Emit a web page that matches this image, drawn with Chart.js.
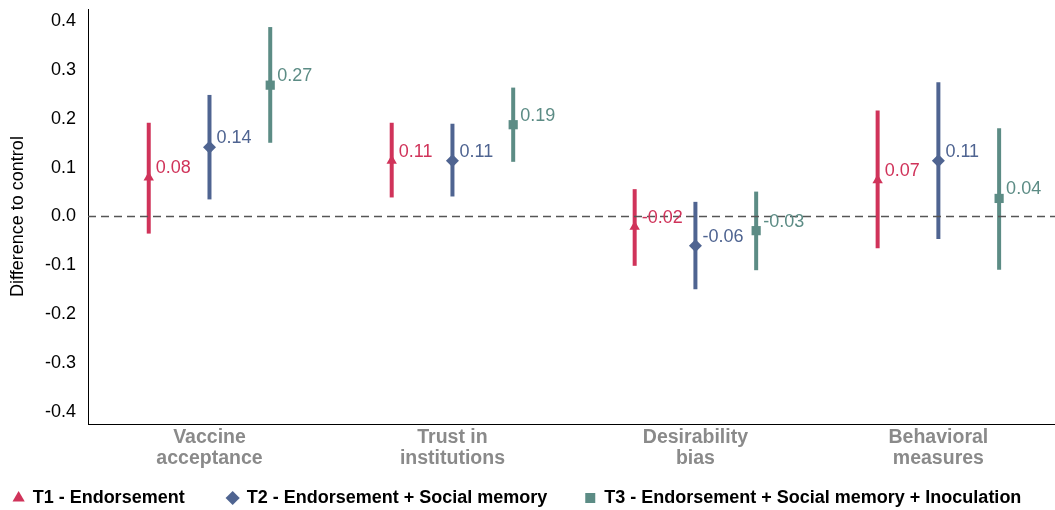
<!DOCTYPE html>
<html><head><meta charset="utf-8">
<script src="https://cdn.jsdelivr.net/npm/chart.js@4.4.0/dist/chart.umd.min.js"></script>
<style>html,body{margin:0;padding:0;background:#fff;overflow:hidden}#wrap{width:1055px;height:510px;position:relative}</style>
</head><body><div id="wrap"><canvas id="c"></canvas></div>
<script>
const categories = [["Vaccine","acceptance"],["Trust in","institutions"],["Desirability","bias"],["Behavioral","measures"]];
const seriesNames = ["T1 - Endorsement","T2 - Endorsement + Social memory","T3 - Endorsement + Social memory + Inoculation"];
const t1Est = [0.08, 0.114, -0.021, 0.074];
const t1Low = [-0.035, 0.039, -0.101, -0.065];
const t1High = [0.192, 0.192, 0.056, 0.217];
const t2Est = [0.142, 0.114, -0.06, 0.114];
const t2Low = [0.035, 0.041, -0.149, -0.046];
const t2High = [0.249, 0.190, 0.030, 0.275];
const t3Est = [0.269, 0.188, -0.029, 0.037];
const t3Low = [0.151, 0.112, -0.110, -0.109];
const t3High = [0.388, 0.264, 0.051, 0.181];
const yTicks = [-0.4, -0.3, -0.2, -0.1, 0, 0.1, 0.2, 0.3, 0.4];

const colors = ['#D0335A', '#4F6491', '#5C8C85'];
const styles = ['triangle', 'rectRot', 'rect'];
const radii = [6, 6.5, 6.5];
const offsets = [-0.25, 0, 0.25];
const ests = [t1Est, t2Est, t3Est];
const lows = [t1Low, t2Low, t3Low];
const highs = [t1High, t2High, t3High];
const FONT = '"Liberation Sans", Arial, sans-serif';

const datasets = seriesNames.map((name, s) => ({
  type: 'scatter',
  label: name,
  data: ests[s].map((v, i) => ({x: i + 1 + offsets[s], y: v})),
  backgroundColor: colors[s],
  borderColor: colors[s],
  pointStyle: styles[s],
  pointRadius: radii[s],
  pointHoverRadius: radii[s],
  borderWidth: 0,
  order: 1
}));
datasets.push({
  type: 'line', label: '_zero',
  data: [{x: 0.5, y: 0}, {x: 4.48, y: 0}],
  borderColor: '#555', borderWidth: 1.3, borderDash: [8, 5],
  pointRadius: 0, order: 5
});

const errorBars = {
  id: 'errorBars',
  beforeDatasetsDraw(chart) {
    const {ctx, scales: {x, y}} = chart;
    ctx.save();
    ctx.lineWidth = 4;
    ctx.lineCap = 'butt';
    for (let s = 0; s < 3; s++) {
      ctx.strokeStyle = colors[s];
      for (let i = 0; i < ests[s].length; i++) {
        const px = x.getPixelForValue(i + 1 + offsets[s]);
        ctx.beginPath();
        ctx.moveTo(px, y.getPixelForValue(lows[s][i]));
        ctx.lineTo(px, y.getPixelForValue(highs[s][i]));
        ctx.stroke();
      }
    }
    ctx.restore();
  },
  afterDatasetsDraw(chart) {
    const {ctx} = chart;
    ctx.save();
    ctx.font = '18px ' + FONT;
    ctx.textAlign = 'left';
    ctx.textBaseline = 'middle';
    for (let s = 0; s < 3; s++) {
      const meta = chart.getDatasetMeta(s);
      ctx.fillStyle = colors[s];
      meta.data.forEach((pt, i) => {
        ctx.fillText(ests[s][i].toFixed(2), pt.x + 7, pt.y - 9);
      });
    }
    ctx.restore();
  }
};

new Chart(document.getElementById('c'), {
  type: 'scatter',
  data: {datasets},
  plugins: [errorBars],
  options: {
    responsive: true,
    maintainAspectRatio: false,
    animation: false,
    layout: {autoPadding: false, padding: {top: 9, right: 0, left: 0, bottom: -7}},
    plugins: {
      tooltip: {enabled: false},
      legend: {
        position: 'bottom',
        labels: {
          usePointStyle: true,
          boxWidth: 10, boxHeight: 10,
          padding: 8,
          color: '#000',
          font: {family: FONT, size: 18, weight: 'bold'},
          generateLabels(chart) {
            const pads = ['       ', '      ', '    '];
            return seriesNames.map((n, s) => ({
              text: n + pads[s], fillStyle: colors[s], strokeStyle: colors[s],
              lineWidth: 0, pointStyle: styles[s], datasetIndex: s, hidden: false, fontColor: '#000'
            }));
          }
        }
      }
    },
    scales: {
      x: {
        type: 'linear', min: 0.5, max: 4.48,
        afterBuildTicks: (sc) => { sc.ticks = categories.map((c, i) => ({value: i + 1})); },
        afterFit: (sc) => { sc.height = 57; sc.paddingLeft = 0; sc.paddingRight = 0; },
        ticks: {
          callback: (v) => categories[v - 1] || '',
          color: '#8A8A8A', padding: 3, maxRotation: 0, autoSkip: false,
          font: {family: FONT, size: 19.5, weight: 'bold', lineHeight: 1.08}
        },
        grid: {display: false, drawTicks: false},
        border: {display: true, color: '#000', width: 1}
      },
      y: {
        type: 'linear', min: -0.425, max: 0.425,
        afterBuildTicks: (sc) => { sc.ticks = yTicks.map(v => ({value: v})); },
        afterFit: (sc) => { sc.width = 88; sc.paddingTop = 0; sc.paddingBottom = 0; },
        ticks: {
          callback: (v) => v.toFixed(1),
          color: '#000', padding: 12,
          font: {family: FONT, size: 18}
        },
        title: {display: true, text: 'Difference to control', color: '#000',
          font: {family: FONT, size: 18}, padding: {top: 7, bottom: 0}},
        grid: {display: false, drawTicks: false},
        border: {display: true, color: '#000', width: 1}
      }
    }
  }
});
</script></body></html>
